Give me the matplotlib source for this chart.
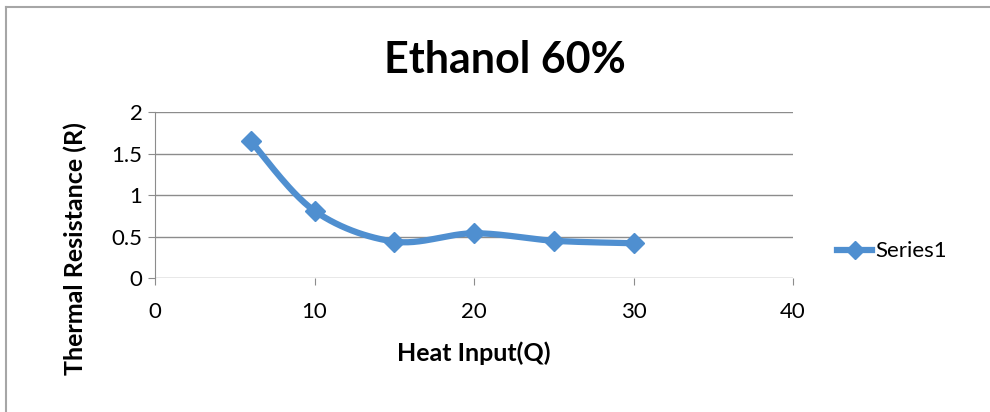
import numpy as np
import matplotlib
matplotlib.use('Agg')
import matplotlib.pyplot as plt
from matplotlib.lines import Line2D

# data
heat_input = [6, 10, 15, 20, 25, 30]
resistance = [1.65, 0.81, 0.44, 0.54, 0.45, 0.42]
series_name = 'Series1'
x_ticks = [0, 10, 20, 30, 40]
y_ticks = [0, 0.5, 1, 1.5, 2]

plt.rcParams['font.family'] = ['Lato', 'DejaVu Sans']
blue = '#4f8fd0'
grid_col = '#8c8c8c'


def smooth_curve(xs, ys, n=30):
    # Excel style smoothed line: cubic bezier with catmull-rom control points
    xs = np.asarray(xs, float)
    ys = np.asarray(ys, float)
    px, py = [], []
    for i in range(len(xs) - 1):
        x0, y0 = (xs[i - 1], ys[i - 1]) if i > 0 else (xs[i], ys[i])
        x3, y3 = (xs[i + 2], ys[i + 2]) if i + 2 < len(xs) else (xs[i + 1], ys[i + 1])
        x1, y1 = xs[i], ys[i]
        x2, y2 = xs[i + 1], ys[i + 1]
        c1x, c1y = x1 + (x2 - x0) / 6, y1 + (y2 - y0) / 6
        c2x, c2y = x2 - (x3 - x1) / 6, y2 - (y3 - y1) / 6
        t = np.linspace(0, 1, n)
        bx = (1-t)**3*x1 + 3*(1-t)**2*t*c1x + 3*(1-t)*t**2*c2x + t**3*x2
        by = (1-t)**3*y1 + 3*(1-t)**2*t*c1y + 3*(1-t)*t**2*c2y + t**3*y2
        px.extend(bx)
        py.extend(by)
    return px, py


fig = plt.figure(figsize=(9.9, 4.12), dpi=100)
ax = fig.add_axes([0.1566, 0.325, 0.6444, 0.403])

sx, sy = smooth_curve(heat_input, resistance)
ax.plot(sx, sy, color=blue, lw=4.5, solid_capstyle='round', zorder=3)
ax.plot(heat_input, resistance, ls='none', marker='D', ms=10, color=blue, zorder=4)

ax.set_xlim(0, 40)
ax.set_ylim(0, 2)
ax.set_xticks(x_ticks)
ax.set_yticks(y_ticks)
ax.set_yticklabels([f'{v:g}' for v in y_ticks])
ax.yaxis.grid(True, color=grid_col, lw=1)
ax.set_axisbelow(True)
for s in ['top', 'right', 'bottom']:
    ax.spines[s].set_visible(False)
ax.spines['left'].set_color(grid_col)
ax.tick_params(axis='x', length=5, color=grid_col, labelsize=16, pad=12)
ax.tick_params(axis='y', length=5, color=grid_col, labelsize=16, pad=4)

fig.text(0.51, 0.855, 'Ethanol 60%', fontsize=31, fontweight='bold', ha='center', va='center')
ax.set_xlabel('Heat Input(Q)', fontsize=18, fontweight='bold')
ax.xaxis.set_label_coords(0.5, -0.45)
ax.xaxis.label.set_va('center')
ax.set_ylabel('Thermal Resistance (R)', fontsize=18, fontweight='bold')
ax.yaxis.set_label_coords(-0.125, 0.18)
ax.yaxis.label.set_va('center')

handle = Line2D([], [], color=blue, lw=4.5, marker='D', ms=9)
fig.legend([handle], [series_name], loc='center left', bbox_to_anchor=(0.825, 0.39),
           frameon=False, fontsize=16, handlelength=1.6, handletextpad=0.15)

# chart border (only top and left edges show in the cropped original)
border = '#a6a6a6'
fig.add_artist(Line2D([0.006, 1.0], [0.983, 0.983], transform=fig.transFigure, color=border, lw=1.5))
fig.add_artist(Line2D([0.0065, 0.0065], [0.0, 0.983], transform=fig.transFigure, color=border, lw=1.5))

fig.savefig('out.png', dpi=100)
